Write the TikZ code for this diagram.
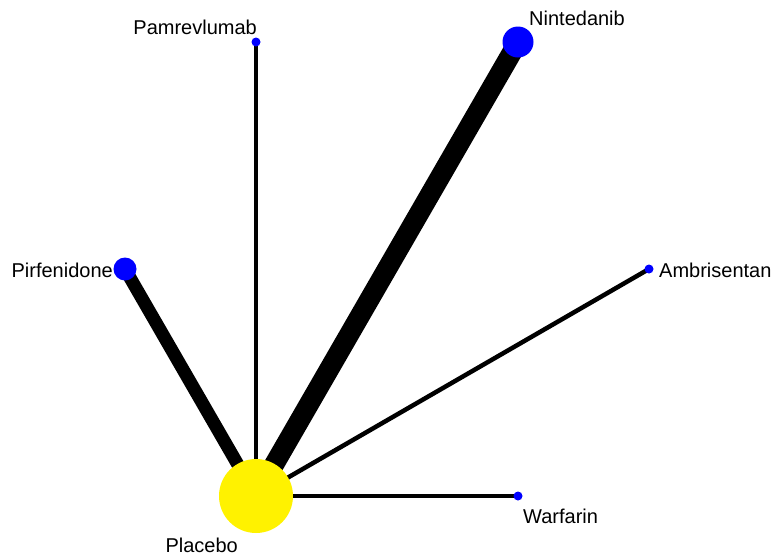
\documentclass[tikz,border=0pt]{standalone}
\usepackage{fontspec}
\setmainfont{Liberation Sans}
\begin{document}
\begin{tikzpicture}[x=1pt,y=-1pt,
  trt/.style={circle,fill=blue,draw=none,inner sep=0pt},
  lbl/.style={inner sep=0pt,font=\fontsize{20}{24}\selectfont},
  edge/.style={draw=black,line cap=butt}]
\useasboundingbox (0,0) rectangle (771,555);
\coordinate (pla) at (256,496);
\coordinate (pam) at (256,42);
\coordinate (nin) at (518,42);
\coordinate (pir) at (125,269);
\coordinate (amb) at (649,269);
\coordinate (war) at (518,496);
% edges
\draw[edge,line width=4.5pt] (pla) -- (pam);
\draw[edge,line width=20pt] (pla) -- (nin);
\draw[edge,line width=13pt] (pla) -- (pir);
\draw[edge,line width=4.5pt] (pla) -- (amb);
\draw[edge,line width=4.5pt] (pla) -- (war);
% nodes
\node[circle,fill=yellow,inner sep=0pt,minimum size=74pt] (nPla) at (pla) {};
\node[trt,minimum size=9pt] (nPam) at (pam) {};
\node[trt,minimum size=31pt] (nNin) at (nin) {};
\node[trt,minimum size=23pt] (nPir) at (pir) {};
\node[trt,minimum size=9pt] (nAmb) at (amb) {};
\node[trt,minimum size=9pt] (nWar) at (war) {};
% labels
\node[lbl,anchor=east] (tPam) at (257,27) {Pamrevlumab};
\node[lbl,anchor=west] (tNin) at (529,18) {Nintedanib};
\node[lbl,anchor=east] (tPir) at (113,270) {Pirfenidone};
\node[lbl,anchor=west] (tAmb) at (659,270) {Ambrisentan};
\node[lbl,anchor=west] (tWar) at (523,516) {Warfarin};
\node[lbl,anchor=east] (tPla) at (238,545) {Placebo};
\end{tikzpicture}
\end{document}
